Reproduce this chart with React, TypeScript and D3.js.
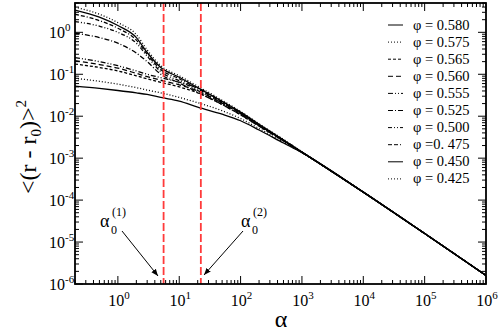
import React from "react";
import * as d3 from "d3";

const alpha = [0.2, 0.5, 1, 2, 3, 5, 10, 20, 50, 100, 200, 500, 1e3, 1e4, 1e5, 1e6];

const phi580 = [0.052, 0.046, 0.041, 0.036, 0.033, 0.028, 0.023, 0.0165, 0.0112, 0.0078, 0.0047, 0.0023, 0.00135, 1.55e-4, 1.6e-5, 1.6e-6];
const phi575 = [0.08, 0.068, 0.058, 0.048, 0.042, 0.036, 0.028, 0.021, 0.0135, 0.0088, 0.0051, 0.0024, 0.00135, 1.55e-4, 1.6e-5, 1.6e-6];
const phi565 = [0.175, 0.145, 0.12, 0.092, 0.078, 0.064, 0.05, 0.036, 0.019, 0.0108, 0.0058, 0.0026, 0.00138, 1.55e-4, 1.6e-5, 1.6e-6];
const phi560 = [0.21, 0.17, 0.14, 0.105, 0.088, 0.072, 0.056, 0.04, 0.0205, 0.0115, 0.006, 0.0026, 0.00138, 1.55e-4, 1.6e-5, 1.6e-6];
const phi555 = [0.25, 0.2, 0.16, 0.12, 0.1, 0.083, 0.065, 0.047, 0.0225, 0.0122, 0.0062, 0.0027, 0.0014, 1.55e-4, 1.6e-5, 1.6e-6];
const phi525 = [0.95, 0.75, 0.55, 0.32, 0.2, 0.1, 0.062, 0.037, 0.019, 0.0108, 0.0058, 0.0026, 0.00138, 1.55e-4, 1.6e-5, 1.6e-6];
const phi500 = [1.8, 1.4, 1.0, 0.55, 0.27, 0.115, 0.07, 0.041, 0.0205, 0.0115, 0.006, 0.0026, 0.00138, 1.55e-4, 1.6e-5, 1.6e-6];
const phi475 = [2.7, 1.9, 1.25, 0.65, 0.3, 0.13, 0.078, 0.045, 0.0215, 0.012, 0.0062, 0.0027, 0.0014, 1.55e-4, 1.6e-5, 1.6e-6];
const phi450 = [3.4, 2.3, 1.45, 0.75, 0.33, 0.145, 0.085, 0.048, 0.0225, 0.0125, 0.0064, 0.0027, 0.0014, 1.55e-4, 1.6e-5, 1.6e-6];
const phi425 = [4.0, 2.7, 1.7, 0.88, 0.38, 0.16, 0.092, 0.052, 0.024, 0.013, 0.0066, 0.0028, 0.00142, 1.55e-4, 1.6e-5, 1.6e-6];

const legendLabels = ["φ = 0.580", "φ = 0.575", "φ = 0.565", "φ = 0.560", "φ = 0.555", "φ = 0.525", "φ = 0.500", "φ =0. 475", "φ = 0.450", "φ = 0.425"];
const seriesValues = [phi580, phi575, phi565, phi560, phi555, phi525, phi500, phi475, phi450, phi425];
const dashes = ["", "1,2", "3,2", "5,3", "5,2,1,2,1,2", "5,2,1,2", "4,2,1,2,1,2", "4,2,4,2,1,2", "", "1,2"];

const crossovers = [5.56, 22.5];
const xDecades = [0, 1, 2, 3, 4, 5, 6];
const yDecades = [-6, -5, -4, -3, -2, -1, 0];

const W = 498, H = 333;
const M = { left: 75, right: 486, top: 3, bottom: 284 };
const serif = "'Liberation Serif', 'DejaVu Serif', serif";

export default function App() {
  const x = d3.scaleLog().domain([0.2, 1e6]).range([M.left, M.right]);
  const y = d3.scaleLog().domain([1e-6, 5]).range([M.bottom, M.top]);

  const line = d3.line<number>()
    .x((_, i) => x(alpha[i]))
    .y(d => y(d))
    .curve(d3.curveMonotoneX);

  // minor ticks
  const xMinor: number[] = [];
  for (let e = -1; e <= 5; e++) for (let m = 2; m <= 9; m++) {
    const v = m * Math.pow(10, e);
    if (v >= 0.2 && v <= 1e6) xMinor.push(v);
  }
  const yMinor: number[] = [];
  for (let e = -6; e <= 0; e++) for (let m = 2; m <= 9; m++) {
    const v = m * Math.pow(10, e);
    if (v <= 5) yMinor.push(v);
  }

  const legendX = 388, legendY = 25, legendStep = 17.1;

  return (
    <svg width={W} height={H} style={{ position: "absolute", left: 0, top: 0, background: "#fff" }} fontFamily={serif}>
      <defs>
        <clipPath id="plot">
          <rect x={M.left} y={M.top} width={M.right - M.left} height={M.bottom - M.top} />
        </clipPath>
        <marker id="arrow" viewBox="0 0 10 10" refX="10" refY="5" markerWidth="7" markerHeight="7" orient="auto">
          <path d="M0,1 L10,5 L0,9 z" fill="#000" />
        </marker>
      </defs>

      <g clipPath="url(#plot)">
        {seriesValues.map((vals, i) => (
          <path key={i} d={line(vals) || ""} fill="none" stroke="#000" strokeWidth={1.3}
            strokeDasharray={dashes[i] || undefined} />
        ))}
        {crossovers.map((c, i) => (
          <line key={i} x1={x(c)} x2={x(c)} y1={M.top} y2={M.bottom}
            stroke="#ff3b3b" strokeWidth={1.8} strokeDasharray="8,3" />
        ))}
      </g>

      {/* ticks, mirrored on all sides, pointing inward */}
      <g stroke="#000" strokeWidth={1}>
        {xDecades.map(e => {
          const px = x(Math.pow(10, e));
          return <g key={"xM" + e}>
            <line x1={px} x2={px} y1={M.bottom} y2={M.bottom - 8} />
            <line x1={px} x2={px} y1={M.top} y2={M.top + 8} />
          </g>;
        })}
        {xMinor.map((v, i) => {
          const px = x(v);
          return <g key={"xm" + i}>
            <line x1={px} x2={px} y1={M.bottom} y2={M.bottom - 4} />
            <line x1={px} x2={px} y1={M.top} y2={M.top + 4} />
          </g>;
        })}
        {yDecades.map(e => {
          const py = y(Math.pow(10, e));
          return <g key={"yM" + e}>
            <line x1={M.left} x2={M.left + 8} y1={py} y2={py} />
            <line x1={M.right} x2={M.right - 8} y1={py} y2={py} />
          </g>;
        })}
        {yMinor.map((v, i) => {
          const py = y(v);
          return <g key={"ym" + i}>
            <line x1={M.left} x2={M.left + 4} y1={py} y2={py} />
            <line x1={M.right} x2={M.right - 4} y1={py} y2={py} />
          </g>;
        })}
      </g>

      <rect x={M.left} y={M.top} width={M.right - M.left} height={M.bottom - M.top}
        fill="none" stroke="#000" strokeWidth={1.8} />

      {/* tick labels */}
      {xDecades.map(e => (
        <text key={"xl" + e} x={x(Math.pow(10, e)) + 1} y={306} textAnchor="middle" fontSize={16}>
          10<tspan fontSize={11} dy={-7}>{e}</tspan>
        </text>
      ))}
      {yDecades.map(e => (
        <text key={"yl" + e} x={49} y={y(Math.pow(10, e)) + 6} fontSize={16}>
          10<tspan fontSize={11} dy={-7}>{e}</tspan>
        </text>
      ))}

      {/* axis titles */}
      <text x={281} y={327} textAnchor="middle" fontSize={24}>α</text>
      <text transform="translate(36,147) rotate(-90)" textAnchor="middle" fontSize={24}>
        &lt;(r - r<tspan fontSize={15} dy={5}>0</tspan><tspan dy={-5}>)&gt;</tspan><tspan fontSize={15} dy={-10}>2</tspan>
      </text>

      {/* legend */}
      {legendLabels.map((lab, i) => {
        const cy = legendY + i * legendStep;
        return <g key={"lg" + i}>
          <line x1={legendX} x2={legendX + 15} y1={cy} y2={cy} stroke="#000" strokeWidth={1}
            strokeDasharray={dashes[i] || undefined} />
          <text x={413} y={cy + 4.5} fontSize={14.5}>{lab}</text>
        </g>;
      })}

      {/* crossover annotations */}
      <text x={100} y={227} fontSize={18}>α</text>
      <text x={111} y={234} fontSize={12}>0</text>
      <text x={112} y={216} fontSize={12}>(1)</text>
      <line x1={122} y1={231} x2={158} y2={276} stroke="#000" strokeWidth={1} markerEnd="url(#arrow)" />

      <text x={241} y={227} fontSize={18}>α</text>
      <text x={252} y={234} fontSize={12}>0</text>
      <text x={253} y={216} fontSize={12}>(2)</text>
      <line x1={243} y1={231} x2={204} y2={275} stroke="#000" strokeWidth={1} markerEnd="url(#arrow)" />
    </svg>
  );
}
